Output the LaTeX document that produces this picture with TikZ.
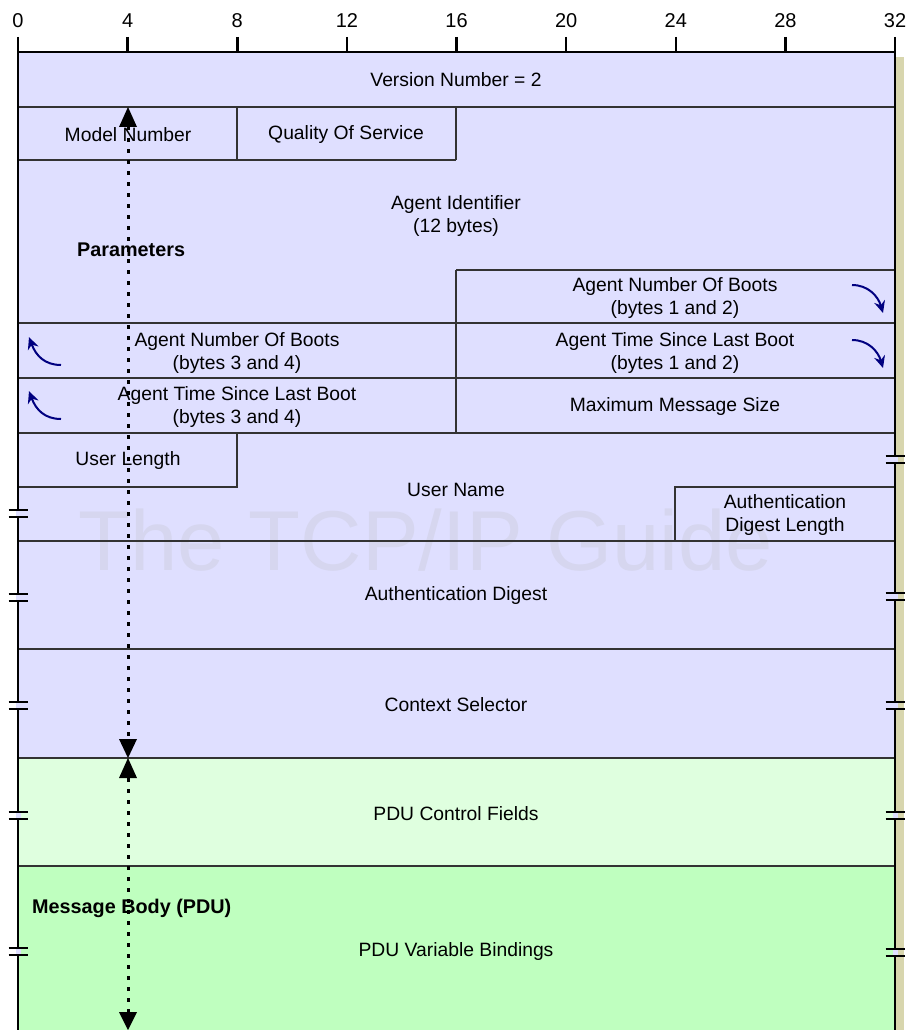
\documentclass[tikz,border=0pt]{standalone}
\usepackage{fontspec}
\setmainfont{Liberation Sans}
\usetikzlibrary{arrows.meta}
\definecolor{lav}{HTML}{DFDFFF}
\definecolor{lgreen}{HTML}{DFFFDF}
\definecolor{mgreen}{HTML}{BFFFBF}
\definecolor{shadowc}{HTML}{D8D6AE}
\definecolor{wmc}{HTML}{D6D6EF}
\definecolor{linegray}{HTML}{333333}
\definecolor{navyc}{HTML}{000080}
\begin{document}
\begin{tikzpicture}[x=1pt,y=-1pt,
 lbl/.style={font=\fontsize{19.3}{22.5}\selectfont, align=center, inner sep=0pt},
 boldlbl/.style={font=\fontsize{19.8}{22}\selectfont\bfseries, inner sep=0pt, anchor=west},
 rulerlbl/.style={font=\fontsize{20}{22}\selectfont, inner sep=0pt},
 outerline/.style={line width=2.5pt, black},
 thinline/.style={line width=1.3pt, linegray},
 dotline/.style={line width=3pt, dash pattern=on 3.5pt off 7.5pt},
 curv/.style={navyc, line width=2pt, -{Stealth[length=12pt,width=11pt]}},
 brkline/.style={line width=2pt, black},
 tipfill/.style={fill=black},
]
\useasboundingbox (0,0) rectangle (909,1030);
% shadow and fills
\fill[shadowc] (896,57) rectangle (904,1030);
\fill[lav] (18,52) rectangle (895,758);
\fill[lgreen] (18,758) rectangle (895,866);
\fill[mgreen] (18,866) rectangle (895,1030);
% watermark
\node[text=wmc, font=\fontsize{85}{90}\selectfont, anchor=base, inner sep=0pt] (wm) at (426,570) {The TCP/IP Guide};
% inner lines
\draw[thinline] (18,107) -- (895,107);
\draw[thinline] (18,160) -- (456,160);
\draw[thinline] (237,107) -- (237,160);
\draw[thinline] (456,107) -- (456,160);
\draw[thinline] (456,270) -- (895,270);
\draw[thinline] (456,270) -- (456,433);
\draw[thinline] (18,323) -- (895,323);
\draw[thinline] (18,378) -- (895,378);
\draw[thinline] (18,433) -- (895,433);
\draw[thinline] (18,487) -- (237,487) -- (237,433);
\draw[thinline] (895,487) -- (675,487) -- (675,541);
\draw[thinline] (18,541) -- (895,541);
\draw[thinline] (18,649) -- (895,649);
\draw[thinline] (18,758) -- (895,758);
\draw[thinline] (18,866) -- (895,866);
% outer frame and ruler
\draw[outerline] (18,52) -- (895,52);
\draw[outerline] (18,37) -- (18,1030);
\draw[outerline] (895,37) -- (895,1030);
\foreach \b in {4,8,...,28} {
  \draw[outerline] ({18+27.40625*\b},37) -- ({18+27.40625*\b},52);
}
\foreach \b in {0,4,...,32} {
  \node[rulerlbl] (r\b) at ({18+27.40625*\b},21) {\b};
}
% break marks
\foreach \x/\y in {18/513.5,18/597,18/705.5,18/815,18/951,895/459,895/596,895/705.5,895/815,895/952} {
  \fill[lav] (\x-2.5,\y-3) rectangle (\x+2.5,\y+3);
  \draw[brkline] (\x-9.5,\y-3.5) -- (\x+9.5,\y-3.5);
  \draw[brkline] (\x-9.5,\y+3.5) -- (\x+9.5,\y+3.5);
}
% field labels
\node[lbl] (ver) at (456,80) {Version Number = 2};
\node[lbl] (model) at (128,135) {Model Number};
\node[lbl] (qos) at (346,135) {Quality Of Service};
\node[lbl] (aid) at (456,216) {Agent Identifier\\(12 bytes)};
\node[boldlbl] (params) at (77,250) {Parameters};
\node[lbl] (nb12) at (675,298) {Agent Number Of Boots\\(bytes 1 and 2)};
\node[lbl] (nb34) at (237,353) {Agent Number Of Boots\\(bytes 3 and 4)};
\node[lbl] (tb12) at (675,353) {Agent Time Since Last Boot\\(bytes 1 and 2)};
\node[lbl] (tb34) at (237,407) {Agent Time Since Last Boot\\(bytes 3 and 4)};
\node[lbl] (maxmsg) at (675,407) {Maximum Message Size};
\node[lbl] (ulen) at (128,461) {User Length};
\node[lbl] (uname) at (456,490) {User Name};
\node[lbl] (adl) at (785,515) {Authentication\\Digest Length};
\node[lbl] (ad) at (456,596) {Authentication Digest};
\node[lbl] (ctx) at (456,705) {Context Selector};
\node[lbl] (pducf) at (456,814) {PDU Control Fields};
\node[boldlbl] (mbody) at (32,908) {Message Body (PDU)};
\node[lbl] (pduvb) at (456,951) {PDU Variable Bindings};
% curved continuation arrows
\coordinate (c1s) at (852,285); \coordinate (c1e) at (883,313);
\coordinate (c2s) at (852,340); \coordinate (c2e) at (883,368);
\coordinate (c3s) at (61,365); \coordinate (c3e) at (29,337);
\coordinate (c4s) at (61,419); \coordinate (c4e) at (29,391);
\draw[curv] (c1s) .. controls (868,285) and (878,296) .. (c1e);
\draw[curv] (c2s) .. controls (868,340) and (878,351) .. (c2e);
\draw[curv] (c3s) .. controls (45,365) and (36,356) .. (c3e);
\draw[curv] (c4s) .. controls (45,419) and (36,410) .. (c4e);
% dotted span arrows
\coordinate (p1) at (128,107);
\coordinate (p2) at (128,758);
\coordinate (p3) at (128,1030);
\draw[dotline] ([yshift=-20pt]p1) -- ([yshift=19pt]p2);
\draw[dotline] ([yshift=-20pt]p2) -- ([yshift=18pt]p3);
\fill[tipfill] (p1) -- ++(9,20) -- ++(-18,0) -- cycle;
\fill[tipfill] (p2) -- ++(9,-19) -- ++(-18,0) -- cycle;
\fill[tipfill] (p2) -- ++(9,20) -- ++(-18,0) -- cycle;
\fill[tipfill] (p3) -- ++(9,-18) -- ++(-18,0) -- cycle;
\end{tikzpicture}
\end{document}
